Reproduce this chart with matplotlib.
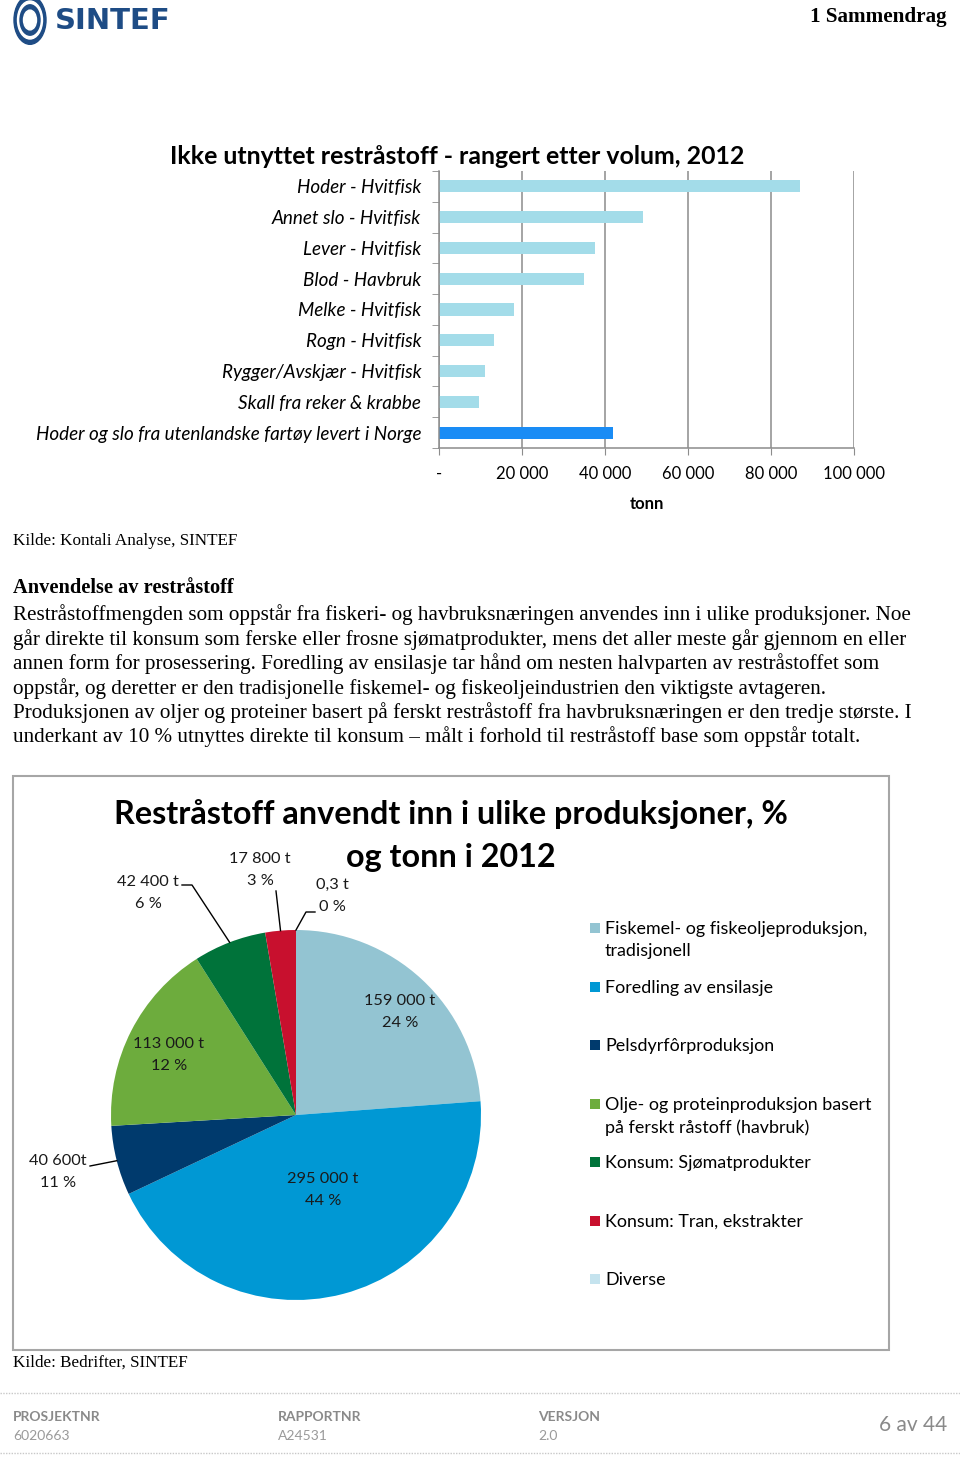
import numpy as np
import matplotlib.pyplot as plt
from matplotlib.patches import Rectangle, Circle
from matplotlib.lines import Line2D

W, H = 960, 1459

# --- bar chart data (tonn) ---
bar_labels = ["Hoder - Hvitfisk", "Annet slo - Hvitfisk", "Lever - Hvitfisk", "Blod - Havbruk",
              "Melke - Hvitfisk", "Rogn - Hvitfisk", "Rygger/Avskjær - Hvitfisk",
              "Skall fra reker & krabbe", "Hoder og slo fra utenlandske fartøy levert i Norge"]
bar_values = [87000, 49000, 37500, 35000, 18000, 13300, 11000, 9500, 42000]
bar_ticks = [0, 20000, 40000, 60000, 80000, 100000]
bar_tick_labels = ["-", "20 000", "40 000", "60 000", "80 000", "100 000"]

# --- pie chart data (tonn) ---
pie_names = ["Fiskemel- og fiskeoljeproduksjon,\ntradisjonell", "Foredling av ensilasje",
             "Pelsdyrfôrproduksjon", "Olje- og proteinproduksjon basert\npå ferskt råstoff (havbruk)",
             "Konsum: Sjømatprodukter", "Konsum: Tran, ekstrakter", "Diverse"]
pie_values = [159000, 295000, 40600, 113000, 42400, 17800, 0.3]
pie_texts = ["159 000 t\n24 %", "295 000 t\n44 %", "40 600t\n11 %", "113 000 t\n12 %",
             "42 400 t\n6 %", "17 800 t\n3 %", "0,3 t\n0 %"]
pie_colors = ["#93C4D2", "#0098D4", "#003A6D", "#6DAC3D", "#00733A", "#C8102E", "#C5E3EE"]

paragraph = [
    "Restråstoffmengden som oppstår fra fiskeri- og havbruksnæringen anvendes inn i ulike produksjoner. Noe",
    "går direkte til konsum som ferske eller frosne sjømatprodukter, mens det aller meste går gjennom en eller",
    "annen form for prosessering. Foredling av ensilasje tar hånd om nesten halvparten av restråstoffet som",
    "oppstår, og deretter er den tradisjonelle fiskemel- og fiskeoljeindustrien den viktigste avtageren.",
    "Produksjonen av oljer og proteiner basert på ferskt restråstoff fra havbruksnæringen er den tredje største. I",
    "underkant av 10 % utnyttes direkte til konsum – målt i forhold til restråstoff base som oppstår totalt.",
]

SANS = "Lato"
SERIF = "Liberation Serif"

fig = plt.figure(figsize=(W / 100, H / 100), dpi=100)


def ftext(x, y, s, **kw):
    kw.setdefault("va", "center")
    return fig.text(x / W, 1 - y / H, s, **kw)


def fline(xs, ys, **kw):
    fig.add_artist(Line2D([x / W for x in xs], [1 - y / H for y in ys], transform=fig.transFigure, **kw))


def frect(x, y, w, h, **kw):
    fig.add_artist(Rectangle((x / W, 1 - (y + h) / H), w / W, h / H, transform=fig.transFigure, **kw))


# header
for r, c in [(16, "#1E4C85"), (12.5, "white"), (10, "#1E4C85"), (6.5, "white")]:
    fig.add_artist(Circle((30 / W, 1 - 20 / H), r / W, transform=fig.transFigure, color=c))
ftext(55, 21, "SINTEF", family="DejaVu Sans", weight="bold", size=21, color="#1E4C85")
ftext(947, 17, "1 Sammendrag", family=SERIF, weight="bold", size=15.2, ha="right")

# bar chart
ax = fig.add_axes([439.3 / W, 1 - 448 / H, (854 - 439.3) / W, (448 - 171) / H])
y = np.arange(len(bar_values))
colors = ["#A3DCE9"] * (len(bar_values) - 1) + ["#1A8CF5"]
ax.barh(y, bar_values, height=0.39, color=colors, zorder=2)
ax.set_ylim(len(bar_values) - 0.5, -0.5)
ax.set_xlim(0, 100000)
ax.set_yticks(y)
ax.set_yticklabels(bar_labels, family=SANS, style="italic", size=13.6)
ax.set_yticks(np.arange(-0.5, len(bar_values), 1), minor=True)
ax.tick_params(axis="y", which="major", length=0, pad=13)
ax.tick_params(axis="y", which="minor", length=5, color="#8C8C8C")
ax.set_xticks(bar_ticks)
ax.set_xticklabels(bar_tick_labels, family=SANS, size=12)
ax.tick_params(axis="x", length=5, color="#8C8C8C", pad=8)
ax.grid(axis="x", color="#8C8C8C", lw=1.1, zorder=0)
for s in ["top", "right"]:
    ax.spines[s].set_visible(False)
for s in ["left", "bottom"]:
    ax.spines[s].set_color("#8C8C8C")
    ax.spines[s].set_linewidth(1.1)
ax.set_xlabel("tonn", family=SANS, weight="bold", size=12, labelpad=10)
ftext(457, 156, "Ikke utnyttet restråstoff - rangert etter volum, 2012", family=SANS,
      weight="bold", size=17.9, ha="center")

# text section
ftext(13, 541, "Kilde: Kontali Analyse, SINTEF", family=SERIF, size=12.3)
ftext(13, 588, "Anvendelse av restråstoff", family=SERIF, weight="bold", size=14.7)
for i, line in enumerate(paragraph):
    ftext(13, 615 + i * 24.4, line, family=SERIF, size=15.2)

# pie chart box
frect(13, 776, 876, 574, fill=False, edgecolor="#A6A6A6", lw=1.5)
ftext(451, 814, "Restråstoff anvendt inn i ulike produksjoner, %", family=SANS, weight="bold",
      size=23.3, ha="center")
ftext(451, 857, "og tonn i 2012", family=SANS, weight="bold", size=23.3, ha="center")

cx, cy, R = 296, 1115, 185
pax = fig.add_axes([(cx - R) / W, 1 - (cy + R) / H, 2 * R / W, 2 * R / H])
wedges, _ = pax.pie(pie_values, colors=pie_colors, startangle=90, counterclock=False,
                    radius=1, wedgeprops=dict(linewidth=0))
pax.set_xlim(-1, 1)
pax.set_ylim(-1, 1)
pax.set_aspect("auto")
pax.axis("off")

lab_kw = dict(family=SANS, size=11.8, ha="center", linespacing=1.7, color="#1a1a1a")
# inside labels
ftext(400, 1012, pie_texts[0], **lab_kw)
ftext(323, 1190, pie_texts[1], **lab_kw)
ftext(169, 1055, pie_texts[3], **lab_kw)
# outside labels with leader lines, anchored on the wedge edge
outside = [(2, 58, 1172, 90, 1166, "plain"), (4, 148, 893, 182, 885, "right"),
           (5, 260, 870, 276, 891, "plain"), (6, 332, 896, 315, 912, "left")]
for idx, tx, ty, lx, ly, kind in outside:
    ftext(tx, ty, pie_texts[idx], **lab_kw)
    w = wedges[idx]
    mid = np.deg2rad((w.theta1 + w.theta2) / 2)
    ex = cx + R * np.cos(mid)
    ey = cy - R * np.sin(mid)
    if kind == "right":
        fline([lx, lx + 10, ex], [ly, ly, ey], color="black", lw=1)
    elif kind == "left":
        fline([lx, lx - 9, ex], [ly, ly, ey], color="black", lw=1)
    else:
        fline([lx, ex], [ly, ey], color="black", lw=1)

# legend
leg_y = [928, 987, 1045, 1104, 1162, 1221, 1279]
for name, c, ly in zip(pie_names, pie_colors, leg_y):
    frect(590, ly - 5, 10, 10, color=c, lw=0)
    fig.text(605 / W, 1 - (ly - 7) / H, name, family=SANS, size=12.85, va="top", linespacing=1.45)

ftext(13, 1363, "Kilde: Bedrifter, SINTEF", family=SERIF, size=12.3)

# footer
fline([0, 960], [1393, 1393], color="#C8C8C8", lw=1, ls=(0, (1, 1)))
fline([0, 960], [1453, 1453], color="#C8C8C8", lw=1, ls=(0, (1, 1)))
for x, head, val in [(13, "PROSJEKTNR", "6020663"), (278, "RAPPORTNR", "A24531"), (538, "VERSJON", "2.0")]:
    ftext(x, 1417, head, family=SANS, weight="bold", size=10, color="#8A8A8A")
    ftext(x, 1436, val, family=SANS, size=10, color="#9A9A9A")
ftext(947, 1425, "6 av 44", family=SANS, size=15, color="#8A8A8A", ha="right")

fig.savefig("out.png", dpi=100)
